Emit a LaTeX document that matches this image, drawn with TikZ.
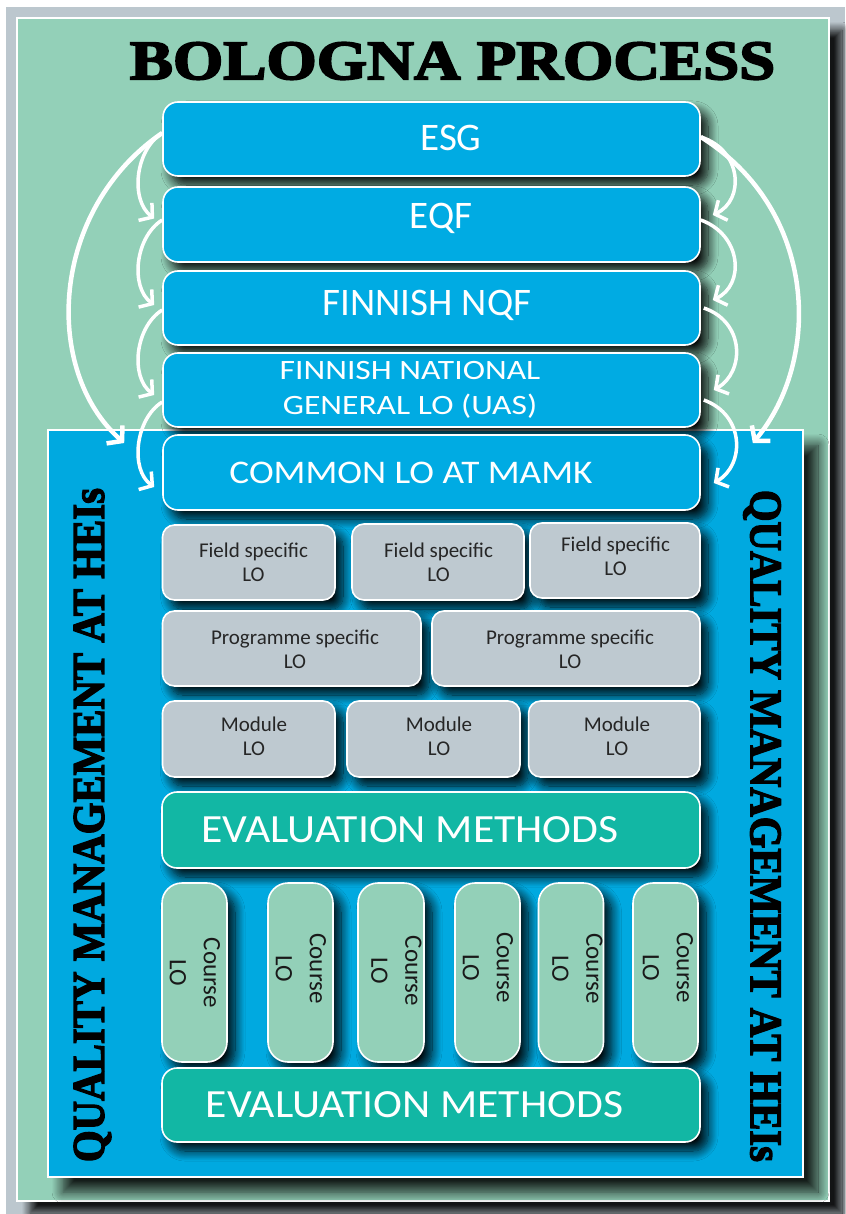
\documentclass[tikz,border=0pt]{standalone}
\usepackage{fontspec}
\usepackage{graphicx}
\setmainfont{Carlito}
\newfontfamily\titlefont{Liberation Serif}[BoldFeatures={FakeBold=3}]
\usetikzlibrary{arrows.meta,shadows.blur}
\definecolor{bggray}{HTML}{BCC7CE}
\definecolor{panelgreen}{HTML}{93D0B8}
\definecolor{boxblue}{HTML}{00ABE3}
\definecolor{frameblue}{HTML}{00A9E0}
\definecolor{boxgray}{HTML}{BEC9D0}
\definecolor{evalteal}{HTML}{12B7A4}
\definecolor{coursegreen}{HTML}{93D0B8}
\tikzset{
  shadowed/.style={blur shadow={shadow xshift=8pt, shadow yshift=-9pt, shadow blur radius=10pt, shadow blur steps=12, shadow opacity=95}},
  bigshadow/.style={blur shadow={shadow xshift=15pt, shadow yshift=-15pt, shadow blur radius=11pt, shadow blur steps=12, shadow opacity=85}},
  panelshadow/.style={blur shadow={shadow xshift=13pt, shadow yshift=-12pt, shadow blur radius=8pt, shadow blur steps=12, shadow opacity=90}},
  panel/.style={draw=white, line width=2pt, fill=panelgreen, inner sep=0pt, panelshadow},
  framebox/.style={draw=white, line width=2.5pt, fill=frameblue, inner sep=0pt, bigshadow},
  bluebox/.style={draw=white, line width=1.6pt, fill=boxblue, rounded corners=15pt, minimum width=537pt, inner sep=0pt, shadowed},
  graybox/.style={draw=white, line width=1.6pt, fill=boxgray, rounded corners=12pt, inner sep=0pt, shadowed},
  evalbox/.style={draw=white, line width=1.6pt, fill=evalteal, rounded corners=15pt, minimum width=538pt, inner sep=0pt, shadowed},
  coursebox/.style={draw=white, line width=1.6pt, fill=coursegreen, rounded corners=20pt, minimum width=65pt, minimum height=179pt, inner sep=0pt, shadowed},
  bluetext/.style={text=white, inner sep=0pt, align=center},
  graytext/.style={text=black!85, inner sep=0pt, align=center, font=\fontsize{21}{24}\selectfont},
  evaltext/.style={text=white, inner sep=0pt, font=\fontsize{40}{44}\selectfont},
  coursetext/.style={text=black!90, inner sep=0pt, align=center, rotate=-90, font=\fontsize{25}{34}\selectfont},
  titletext/.style={text=black, inner sep=0pt},
  smallarrow/.style={draw=white, line width=3.5pt, -{Straight Barb[length=9pt,width=22pt]}},
  bigarrow/.style={draw=white, line width=4.5pt, -{Straight Barb[length=10pt,width=24pt]}}
}
\begin{document}
\begin{tikzpicture}[x=1pt,y=-1pt]
\useasboundingbox (0,0) rectangle (845,1214);
\fill[white] (0,0) rectangle (845,1214);
\fill[bggray] (6,7) rectangle (845,1214);
\node[panel, minimum width=812pt, minimum height=1183pt] (panel) at (423,609.5) {};
\node[titletext] (title) at (452.5,61) {\resizebox{645pt}{37pt}{\titlefont\bfseries BOLOGNA PROCESS}};
% blue boxes (upper, on green)
\node[bluebox, minimum height=74pt, label={[bluetext, font=\fontsize{39}{44}\selectfont, xshift=19.5pt, yshift=1.5pt]center:ESG}] (esg) at (431.5,139) {};
\node[bluebox, minimum height=75pt, label={[bluetext, font=\fontsize{39}{44}\selectfont, xshift=9.5pt, yshift=6pt]center:EQF}] (eqf) at (431.5,224.5) {};
\node[bluebox, minimum height=74pt, label={[bluetext, font=\fontsize{39}{44}\selectfont, xshift=-4.5pt, yshift=2.5pt]center:FINNISH NQF}] (nqf) at (431.5,308) {};
\node[framebox, minimum width=755pt, minimum height=747pt] (frame) at (425.5,803.5) {};
\node[bluebox, minimum height=74pt, label={[bluetext, font=\fontsize{28}{35}\selectfont, xshift=-21.5pt]center:\scalebox{1.2}[1]{FINNISH NATIONAL}\\\scalebox{1.2}[1]{GENERAL LO (UAS)}}] (nat) at (431.5,390) {};
\node[bluebox, minimum height=75pt, label={[bluetext, font=\fontsize{33}{38}\selectfont, xshift=-20.5pt]center:\scalebox{1.13}[1]{COMMON LO AT MAMK}}] (common) at (431.5,472.5) {};
% gray boxes
\node[graybox, minimum width=172.5pt, minimum height=75pt, label={[graytext, xshift=4.75pt, yshift=0.5pt]center:Field specific\\LO}] (f1) at (248.75,562.5) {};
\node[graybox, minimum width=172pt, minimum height=76pt, label={[graytext, xshift=0.5pt]center:Field specific\\LO}] (f2) at (438,562) {};
\node[graybox, minimum width=170pt, minimum height=75pt, label={[graytext, xshift=0.5pt, yshift=4.5pt]center:Field specific\\LO}] (f3) at (615,560.5) {};
\node[graybox, minimum width=258.5pt, minimum height=75pt, label={[graytext, xshift=3.25pt, yshift=-0.5pt]center:Programme specific\\LO}] (p1) at (291.75,648.5) {};
\node[graybox, minimum width=268pt, minimum height=75pt, label={[graytext, xshift=4pt, yshift=-0.5pt]center:Programme specific\\LO}] (p2) at (566,648.5) {};
\node[graybox, minimum width=172.5pt, minimum height=76pt, label={[graytext, xshift=5.25pt, yshift=3pt]center:Module\\LO}] (m1) at (248.75,739) {};
\node[graybox, minimum width=173pt, minimum height=76pt, label={[graytext, xshift=5.5pt, yshift=3pt]center:Module\\LO}] (m2) at (433.5,739) {};
\node[graybox, minimum width=171.4pt, minimum height=76pt, label={[graytext, xshift=2.7pt, yshift=3pt]center:Module\\LO}] (m3) at (614.3,739) {};
% evaluation
\node[evalbox, minimum height=76pt, label={[evaltext, xshift=-21pt, yshift=0.5pt]center:\scalebox{1.09}[1]{EVALUATION METHODS}}] (ev1) at (431,830) {};
% courses
\node[coursebox, label={[coursetext, xshift=0.5pt, yshift=0.5pt]center:Course\\LO}] (c1) at (194.5,972.5) {};
\node[coursebox, label={[coursetext, xshift=-4pt, yshift=0.5pt]center:Course\\LO}] (c2) at (300.5,972.5) {};
\node[coursebox, minimum width=66pt, label={[coursetext, xshift=-1.5pt, yshift=5.5pt]center:Course\\LO}] (c3) at (391,972.5) {};
\node[coursebox, label={[coursetext, xshift=-5pt, yshift=0.5pt]center:Course\\LO}] (c4) at (487.5,972.5) {};
\node[coursebox, label={[coursetext, xshift=-4pt, yshift=6.5pt]center:Course\\LO}] (c5) at (571,972.5) {};
\node[coursebox, label={[coursetext, xshift=-5pt, yshift=2.5pt]center:Course\\LO}] (c6) at (665.5,972.5) {};
\node[evalbox, minimum height=74pt, label={[evaltext, xshift=-16.5pt, yshift=0.5pt]center:\scalebox{1.09}[1]{EVALUATION METHODS}}] (ev2) at (431,1105) {};
% vertical titles
\node[titletext, rotate=90] (qleft) at (92.5,825) {\resizebox{674pt}{30pt}{\titlefont\bfseries QUALITY MANAGEMENT AT HEIs}};
\node[titletext, rotate=-90] (qright) at (762,826) {\resizebox{672pt}{30pt}{\titlefont\bfseries QUALITY MANAGEMENT AT HEIs}};
% left arrows
\draw[smallarrow] ([yshift=6pt]esg.west) .. controls (135,150) and (130,200) .. ([xshift=-8pt,yshift=6pt]eqf.west);
\draw[smallarrow] ([yshift=4.5pt]eqf.west) .. controls (135,237) and (130,287) .. ([xshift=-8pt,yshift=3pt]nqf.west);
\draw[smallarrow] ([yshift=-2pt]nqf.west) .. controls (135,327) and (130,377) .. ([xshift=-8pt,yshift=-5pt]nat.west);
\draw[smallarrow] ([yshift=-12pt]nat.west) .. controls (135,419) and (130,470) .. ([xshift=-8pt,yshift=-14.5pt]common.west);
\draw[bigarrow] ([yshift=6pt]esg.west) .. controls (50,210) and (42,370) .. ([xshift=-38pt,yshift=29.5pt]common.west);
% right arrows
\draw[smallarrow] ([yshift=2pt]esg.east) .. controls (742,150) and (745,200) .. ([xshift=12pt,yshift=9.5pt]eqf.east);
\draw[smallarrow] ([yshift=4.5pt]eqf.east) .. controls (742,235) and (745,285) .. ([xshift=12pt,yshift=8pt]nqf.east);
\draw[smallarrow] ([xshift=3pt]nqf.east) .. controls (745,322) and (745,372) .. ([xshift=13pt]nat.east);
\draw[smallarrow] ([xshift=3pt,yshift=-10pt]nat.east) .. controls (745,415) and (745,465) .. ([xshift=13pt,yshift=-10.5pt]common.east);
\draw[bigarrow] ([yshift=2pt]esg.east) .. controls (818,210) and (822,360) .. ([xshift=52pt,yshift=29.5pt]common.east);
\end{tikzpicture}
\end{document}
